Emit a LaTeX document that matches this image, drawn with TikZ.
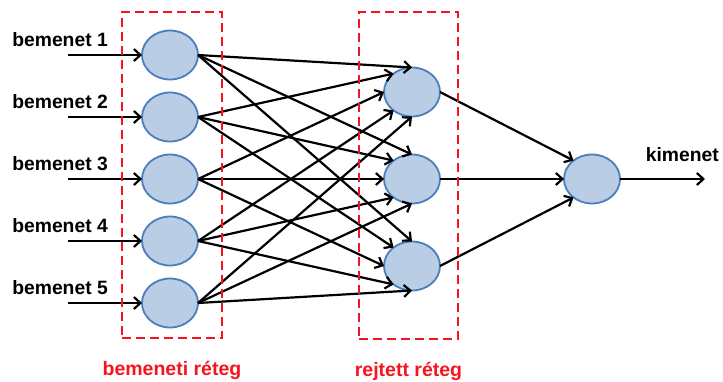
\documentclass[tikz,border=0pt]{standalone}
\usepackage{fontspec}
\setmainfont{Liberation Sans}
\usetikzlibrary{arrows.meta, positioning, shapes.geometric}

\definecolor{neuronfill}{RGB}{185,205,229}
\definecolor{neuronline}{RGB}{74,126,187}
\definecolor{layerred}{RGB}{245,20,30}

\begin{document}
\begin{tikzpicture}[
    x=1pt, y=1pt,
    neuron/.style={ellipse, draw=neuronline, fill=neuronfill, line width=1.8pt, minimum width=56pt, minimum height=49pt, inner sep=0pt, outer sep=0pt},
    layerbox/.style={rectangle, draw=layerred, dash pattern=on 9pt off 5pt, line width=1.9pt},
    inlabel/.style={inner sep=0pt, font=\fontsize{19.3}{22}\selectfont\bfseries},
    layerlabel/.style={inner sep=0pt, text=layerred, font=\fontsize{19.5}{22}\selectfont\bfseries},
    link/.style={-{Straight Barb[length=6.5pt, width=12pt]}, line width=2.2pt}
]
    \useasboundingbox (0,0) rectangle (723,-381);

    % Input layer
    \node[neuron] (i1) at (170,-55) {};
    \node[neuron, below=13pt of i1] (i2) {};
    \node[neuron, below=13pt of i2] (i3) {};
    \node[neuron, below=13pt of i3] (i4) {};
    \node[neuron, below=13pt of i4] (i5) {};

    % Hidden layer
    \node[neuron, right=186pt of i3] (h2) {};
    \node[neuron, above=38pt of h2] (h1) {};
    \node[neuron, below=38pt of h2] (h3) {};

    % Output
    \node[neuron, right=124pt of h2] (out) {};
    \coordinate[right=85pt of out] (kout);
    \node[inlabel, above left=17pt and 0pt of kout, xshift=14pt] (klab) {kimenet};

    % Input arrows and labels
    \foreach \i in {1,...,5} {
        \coordinate[left=74pt of i\i] (s\i);
        \node[inlabel, left=34pt of i\i, yshift=15pt] (t\i) {bemenet \i};
    }

    % Connections
    \foreach \i in {1,...,5}
        \draw[link] (s\i) -- (i\i.west);
    \foreach \i/\a in {1/90, 2/135, 3/180, 4/225, 5/270}
        \foreach \h in {1,2,3}
            \draw[link] (i\i.east) -- (h\h.\a);
    \draw[link] (h1.east) -- (out.135);
    \draw[link] (h2.east) -- (out.west);
    \draw[link] (h3.east) -- (out.225);
    \draw[link] (out.east) -- (kout);

    % Layer boxes
    \node[layerbox, minimum width=100pt, minimum height=326pt, xshift=2pt, yshift=4pt] (inbox) at (i3) {};
    \node[layerbox, minimum width=99pt, minimum height=327pt, xshift=-3.5pt, yshift=3.5pt] (hidbox) at (h2) {};
    \node[layerlabel, below=22pt of inbox] (inlab) {bemeneti réteg};
    \node[layerlabel, below=22pt of hidbox] (hidlab) {rejtett réteg};
\end{tikzpicture}
\end{document}
